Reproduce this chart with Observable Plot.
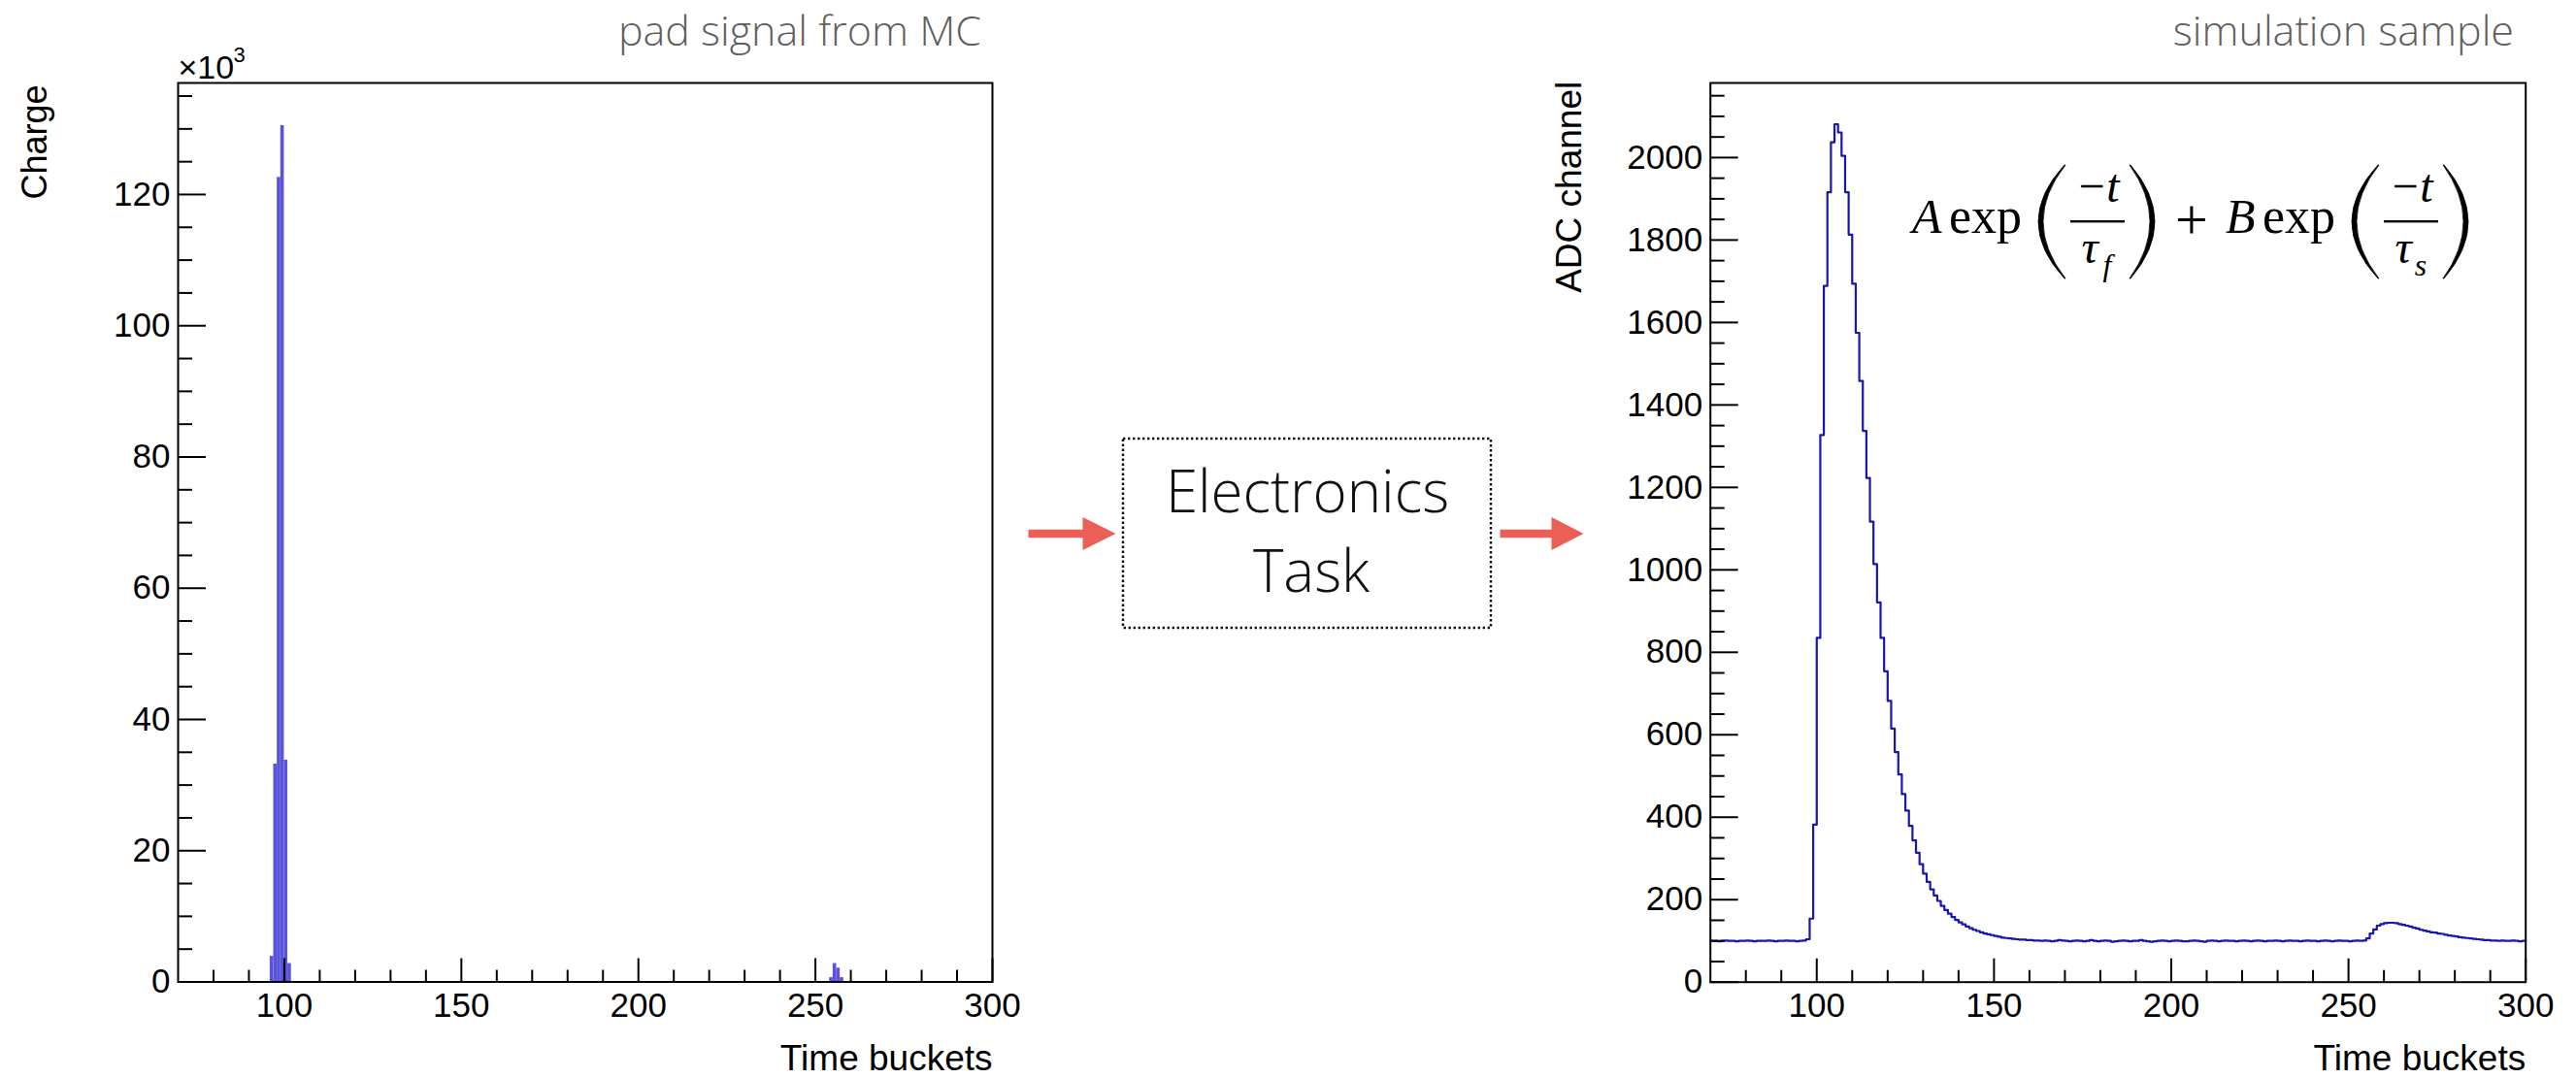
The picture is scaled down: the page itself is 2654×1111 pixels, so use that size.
<!DOCTYPE html>
<html>
<head>
<meta charset="utf-8">
<script src="https://cdn.jsdelivr.net/npm/d3@7"></script>
<script src="https://cdn.jsdelivr.net/npm/@observablehq/plot@0.6"></script>
<style>
html, body { margin: 0; padding: 0; background: #fff; }
#root { position: relative; width: 2654px; height: 1111px; overflow: hidden; background: #fff; }
</style>
</head>
<body>
<div id="root"></div>
<script>
// ---------------- DATA ----------------
// Left panel: pad signal from MC (charge per time bucket, bins [t, t+1))
const chargeTime  = [96, 97, 98, 99, 100, 101, 254, 255, 256, 257];
const chargeValue = [3900, 33200, 122600, 130500, 33800, 2800, 650, 2800, 2100, 650];

// Right panel: simulated ADC per time bucket, first bucket = 70, one value per bucket (70..299)
const adcFirstBucket = 70;
const adcValues = [
  // 70-96 pedestal
  100,100,99,100,101,100,100,99,100,100,101,100,99,100,100,100,101,100,99,100,100,101,100,100,99,100,101,
  // 97-165 main pulse
  104,154,382,835,1327,1689,1916,2037,2081,2061,2004,1916,1813,1694,1575,1458,1337,1223,1117,1014,
  921,835,754,682,615,558,504,456,416,379,344,314,286,263,243,225,210,197,185,175,
  166,158,151,145,140,135,131,127,124,121,118,116,114,112,110,108,107,106,105,104,
  103,103,102,102,101,101,100,101,100,
  // 166-253 pedestal
  99,100,102,101,100,99,100,101,100,99,100,102,100,99,100,101,100,98,99,100,
  101,100,99,100,100,102,100,99,98,99,100,101,100,99,100,101,100,99,99,100,
  101,100,99,98,100,101,100,99,100,101,100,100,99,100,101,100,99,100,101,100,
  99,100,100,101,100,99,100,101,100,100,99,100,101,100,100,99,100,101,100,99,
  100,101,100,100,99,100,101,100,
  // 254-299 second pulse
  101,106,118,128,137,141,143,144,144,143,141,139,137,135,132,130,127,125,123,121,
  120,118,117,115,113,112,111,109,108,107,106,105,104,103,102,102,101,101,100,101,
  100,100,101,100,99,100
];

// Axis ticks
const timeDomain = [70, 300];
const timeMajorTicks = [100, 150, 200, 250, 300];
const chargeMajorTicks = [0, 20000, 40000, 60000, 80000, 100000, 120000];
const adcMajorTicks = [0, 200, 400, 600, 800, 1000, 1200, 1400, 1600, 1800, 2000];
const chargeMax = 137000;
const adcMax = 2181;

// Texts
const leftTitle = "pad signal from MC";
const rightTitle = "simulation sample";
const boxLines = ["Electronics", "Task"];

// ---------------- BUILD ----------------
const root = document.getElementById("root");
const axisFont = '"Liberation Sans", Arial, Helvetica, sans-serif';

const timeMinorTicks = d3.range(80, 300, 10).filter(v => v % 50 !== 0);
const chargeMinorTicks = d3.range(5000, chargeMax, 5000).filter(v => v % 20000 !== 0);
const adcMinorTicks = d3.range(50, adcMax, 50).filter(v => v % 200 !== 0);

const chargeBins = chargeTime.map((t, i) => ({t, t2: t + 1, q: chargeValue[i]}));
const adcPoints = adcValues.map((v, i) => ({t: adcFirstBucket + i, v}));
adcPoints.push({t: adcFirstBucket + adcValues.length, v: adcValues[adcValues.length - 1]});

function place(el, left, top) {
  el.style.position = "absolute";
  el.style.left = left + "px";
  el.style.top = top + "px";
  root.appendChild(el);
}

function rootAxes(majorY, minorY, fmtY) {
  return [
    Plot.axisX(timeMinorTicks, {anchor: "bottom", tickSize: -12, fill: "none", strokeWidth: 2, label: null}),
    Plot.axisX(timeMajorTicks, {anchor: "bottom", tickSize: -24, fill: "none", strokeWidth: 2, label: null}),
    Plot.axisX(timeMajorTicks, {anchor: "bottom", tickSize: 0, tickPadding: 11, fontSize: 35, label: null, tickFormat: d3.format("d")}),
    Plot.axisY(minorY, {anchor: "left", tickSize: -15, fill: "none", strokeWidth: 2, label: null}),
    Plot.axisY(majorY, {anchor: "left", tickSize: -29, fill: "none", strokeWidth: 2, label: null}),
    Plot.axisY(majorY, {anchor: "left", tickSize: 0, tickPadding: 8, fontSize: 35, label: null, tickFormat: fmtY}),
    Plot.frame({stroke: "black", strokeWidth: 2})
  ];
}

const styleObj = {fontFamily: axisFont, fontSize: "35px", color: "black", background: "transparent", overflow: "visible"};

const leftPlot = Plot.plot({
  width: 1100, height: 1111,
  marginLeft: 183, marginRight: 78, marginTop: 85, marginBottom: 99.5,
  x: {domain: timeDomain},
  y: {domain: [0, chargeMax]},
  style: styleObj,
  marks: [
    Plot.rectY(chargeBins, {x1: "t", x2: "t2", y: "q", fill: "#5954db"}),
    ...rootAxes(chargeMajorTicks, chargeMinorTicks, d => String(d / 1000)),
    Plot.text(["Time buckets"], {text: d => d, frameAnchor: "bottom-right", textAnchor: "end", lineAnchor: "bottom", dy: 91, fontSize: 37}),
    Plot.text(["Charge"], {text: d => d, frameAnchor: "top-left", rotate: -90, textAnchor: "end", lineAnchor: "bottom", dx: -136, dy: 2, fontSize: 36}),
    Plot.text(["×10"], {text: d => d, frameAnchor: "top-left", textAnchor: "start", lineAnchor: "bottom", dy: -5, fontSize: 34}),
    Plot.text(["3"], {text: d => d, frameAnchor: "top-left", textAnchor: "start", lineAnchor: "bottom", dx: 57, dy: -22, fontSize: 22})
  ]
});
place(leftPlot, 0, 0);

const rightPlot = Plot.plot({
  width: 1094, height: 1111,
  marginLeft: 201.7, marginRight: 52.3, marginTop: 85, marginBottom: 99.3,
  x: {domain: timeDomain},
  y: {domain: [0, adcMax]},
  style: styleObj,
  marks: [
    Plot.line(adcPoints, {x: "t", y: "v", curve: "step-after", stroke: "#1616b0", strokeWidth: 2.2}),
    ...rootAxes(adcMajorTicks, adcMinorTicks, d3.format("d")),
    Plot.text(["Time buckets"], {text: d => d, frameAnchor: "bottom-right", textAnchor: "end", lineAnchor: "bottom", dy: 91, fontSize: 37}),
    Plot.text(["ADC channel"], {text: d => d, frameAnchor: "top-left", rotate: -90, textAnchor: "end", lineAnchor: "bottom", dx: -133.7, dy: -1.7, fontSize: 37})
  ]
});
place(rightPlot, 1560, 0);

// ---------------- OVERLAY: titles, flow diagram, formula ----------------
const svg = d3.create("svg")
  .attr("width", 2654).attr("height", 1111)
  .attr("viewBox", "0 0 2654 1111")
  .style("position", "absolute").style("left", "0px").style("top", "0px")
  .style("pointer-events", "none");

const titleFont = '"Open Sans", "Noto Sans", sans-serif';
svg.append("text").attr("x", 1011).attr("y", 47).attr("text-anchor", "end")
  .attr("font-family", titleFont).attr("font-weight", 300).attr("font-size", 43).attr("fill", "#5f5f5f")
  .text(leftTitle);
svg.append("text").attr("x", 2590).attr("y", 47).attr("text-anchor", "end")
  .attr("font-family", titleFont).attr("font-weight", 300).attr("font-size", 43).attr("fill", "#5f5f5f")
  .text(rightTitle);

// arrows
const arrowColor = "#ec5f56";
function arrow(x0, x1, xh, y) {
  svg.append("path")
    .attr("d", `M${x0},${y - 4.2}L${x1},${y - 4.2}L${x1},${y - 17}L${xh},${y}L${x1},${y + 17}L${x1},${y + 4.2}L${x0},${y + 4.2}Z`)
    .attr("fill", arrowColor);
}
arrow(1059.5, 1115.5, 1149.5, 550);
arrow(1545.5, 1598.5, 1631.5, 550);

// dotted box
svg.append("rect").attr("x", 1157).attr("y", 452).attr("width", 379).attr("height", 195)
  .attr("fill", "none").attr("stroke", "#111").attr("stroke-width", 2.4).attr("stroke-dasharray", "2.4 2.6");
svg.append("text").attr("x", 1347).attr("y", 528).attr("text-anchor", "middle")
  .attr("font-family", titleFont).attr("font-weight", 300).attr("font-size", 60).attr("fill", "#111")
  .text(boxLines[0]);
svg.append("text").attr("x", 1351).attr("y", 610).attr("text-anchor", "middle")
  .attr("font-family", titleFont).attr("font-weight", 300).attr("font-size", 60).attr("fill", "#111")
  .text(boxLines[1]);

// formula  A exp(-t/τf) + B exp(-t/τs)
const mathFont = '"Liberation Serif", "DejaVu Serif", serif';
const fg = svg.append("g").attr("font-family", mathFont).attr("fill", "#000");
function mtext(str, x, y, size, italic, anchor) {
  fg.append("text").attr("x", x).attr("y", y).attr("font-size", size)
    .attr("font-style", italic ? "italic" : "normal")
    .attr("text-anchor", anchor || "start").text(str);
}
function paren(a, b, top, bot, left) {
  const mid = (top + bot) / 2;
  let d;
  if (left) {
    const co = 2 * a - b, ci = 2 * (a + 4.5) - b;
    d = `M${b},${top}Q${co},${mid} ${b},${bot}L${b + 1},${bot}Q${ci},${mid} ${b + 1},${top}Z`;
  } else {
    const co = 2 * b - a, ci = 2 * (b - 4.5) - a;
    d = `M${a},${top}Q${co},${mid} ${a},${bot}L${a - 1},${bot}Q${ci},${mid} ${a - 1},${top}Z`;
  }
  fg.append("path").attr("d", d).attr("fill", "#000").attr("stroke", "#000").attr("stroke-width", 0.8);
}
function fracTerm(letter, xL, sub) {
  mtext(letter, xL, 240, 50, true);
  mtext("exp", xL + 38, 240, 52, false);
  const p0 = xL + 130;
  paren(p0, p0 + 27, 170, 287, true);
  const fx0 = p0 + 33, fx1 = p0 + 89;
  const cx = (fx0 + fx1) / 2;
  mtext("\u2212", cx - 6, 208, 48, false, "middle");
  mtext("t", cx + 16, 208, 48, true, "middle");
  fg.append("rect").attr("x", fx0).attr("y", 227).attr("width", fx1 - fx0).attr("height", 2.4);
  mtext("\u03C4", cx - 8, 271, 48, true, "middle");
  mtext(sub, cx + 10, 284, 32, true, "middle");
  paren(p0 + 95, p0 + 120, 170, 287, false);
}
fracTerm("A", 1970, "f");
mtext("+", 2258, 246, 60, false, "middle");
fracTerm("B", 2293, "s");

root.appendChild(svg.node());
</script>
</body>
</html>
